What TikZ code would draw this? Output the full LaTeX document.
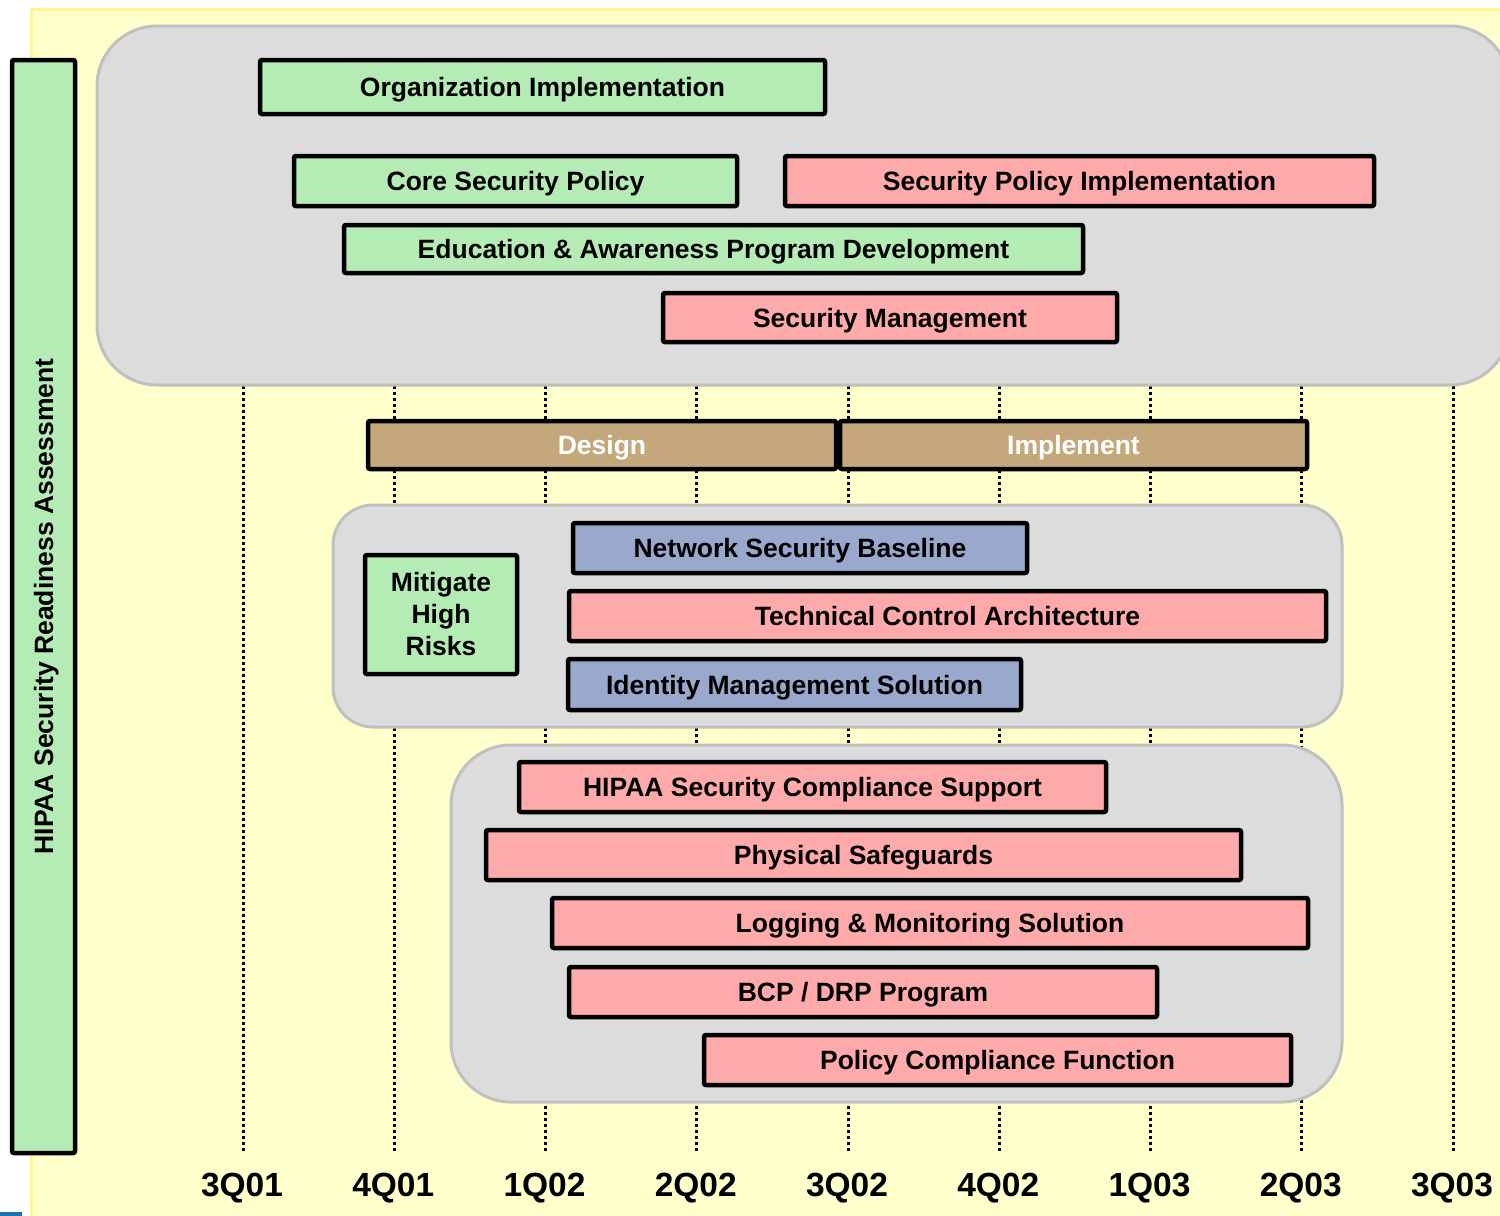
\documentclass[tikz,border=0pt]{standalone}
\usepackage{fontspec}
\setmainfont{Liberation Sans}

\definecolor{panelyellow}{RGB}{255,255,204}
\definecolor{paneledge}{RGB}{255,246,140}
\definecolor{groupgray}{RGB}{220,220,220}
\definecolor{groupedge}{RGB}{192,192,192}
\definecolor{taskgreen}{RGB}{181,235,181}
\definecolor{taskpink}{RGB}{255,170,170}
\definecolor{taskblue}{RGB}{153,168,204}
\definecolor{tasktan}{RGB}{196,167,123}
\definecolor{cornerblue}{RGB}{31,110,180}

\begin{document}
\begin{tikzpicture}
    [
    x=0.5pt, y=-0.5pt,
    task/.style={
      draw=black, line width=2.25pt, rounded corners=1pt,
      inner sep=0pt, align=center, text=black,
      text height=9.6pt, text depth=0pt,
      font=\bfseries\fontsize{13.25}{16}\selectfont
    },
    greentask/.style={task, fill=taskgreen},
    pinktask/.style={task, fill=taskpink},
    bluetask/.style={task, fill=taskblue},
    phase/.style={task, fill=tasktan, text=white},
    group/.style={fill=groupgray, draw=groupedge, line width=1.5pt},
    gridline/.style={line width=1.5pt, dash pattern=on 1.5pt off 1.5pt},
    quarter/.style={font=\bfseries\fontsize{16.75}{20}\selectfont}
    ]
    \useasboundingbox (0,0) rectangle (1500,1216);
    \clip (0,0) rectangle (1500,1216);

    % Draw the background panel
    \fill[panelyellow] (31,9) rectangle (1520,1230);
    \draw[paneledge, line width=1.5pt] (31,1230) -- (31,9.5) -- (1520,9.5);
    \fill[cornerblue] (0,1212) rectangle (22,1216);

    % Draw the quarter grid
    \foreach \i in {0,...,8} {
      \draw[gridline] ({243+151.25*\i}, 380) -- ({243+151.25*\i}, 1152);
    }

    % Draw the groups
    \draw[group, rounded corners=30pt] (97,26) rectangle (1510,385);
    \draw[group, rounded corners=20pt] (333,505) rectangle (1342,727);
    \draw[group, rounded corners=30pt] (451,745) rectangle (1342,1102);

    % Readiness assessment bar
    \node[greentask, rotate=90, minimum width=546.5pt, minimum height=31.5pt]
      (readiness) at (43.5,606.5) {HIPAA Security Readiness Assessment};

    % First group: policy and organization
    \node[greentask, minimum width=282.5pt, minimum height=27pt]
      (org) at (542.5,87) {Organization Implementation};
    \node[greentask, minimum width=221.5pt, minimum height=25pt]
      (core) at (515.5,181) {Core Security Policy};
    \node[pinktask, minimum width=294.5pt, minimum height=25pt]
      (policyimpl) at (1079.5,181) {Security Policy Implementation};
    \node[greentask, minimum width=369.5pt, minimum height=24pt]
      (education) at (713.5,249) {Education \& Awareness Program Development};
    \node[pinktask, minimum width=227pt, minimum height=24.5pt]
      (secmgmt) at (890,317.5) {Security Management};

    % Phases
    \node[phase, minimum width=234pt, minimum height=24pt]
      (design) at (602,445) {Design};
    \node[phase, minimum width=233.5pt, minimum height=24pt]
      (implement) at (1073.5,445) {Implement};

    % Second group: high risks
    \node[greentask, text height={}, text depth={},
      minimum width=76pt, minimum height=59.5pt]
      (mitigate) at (441,614.5) {Mitigate\\High\\Risks};
    \node[bluetask, minimum width=227pt, minimum height=25pt]
      (netbase) at (800,548) {Network Security Baseline};
    \node[pinktask, minimum width=378.5pt, minimum height=25pt]
      (techarch) at (947.5,616) {Technical Control Architecture};
    \node[bluetask, minimum width=226.5pt, minimum height=25.5pt]
      (identity) at (794.5,684.5) {Identity Management Solution};

    % Third group: compliance
    \node[pinktask, minimum width=293.5pt, minimum height=25pt]
      (compliance) at (812.5,787) {HIPAA Security Compliance Support};
    \node[pinktask, minimum width=377.5pt, minimum height=25pt]
      (physical) at (863.5,855) {Physical Safeguards};
    \node[pinktask, minimum width=378pt, minimum height=25pt]
      (logging) at (930,923) {Logging \& Monitoring Solution};
    \node[pinktask, minimum width=294pt, minimum height=25pt]
      (bcp) at (863,992) {BCP / DRP Program};
    \node[pinktask, minimum width=293.5pt, minimum height=25pt]
      (policyfn) at (997.5,1060) {Policy Compliance Function};

    % Quarter labels
    \foreach \q [count=\i from 0] in {3Q01,4Q01,1Q02,2Q02,3Q02,4Q02,1Q03,2Q03,3Q03} {
      \node[quarter] (q\i) at ({242+151.25*\i}, 1188) {\q};
    }
\end{tikzpicture}
\end{document}
